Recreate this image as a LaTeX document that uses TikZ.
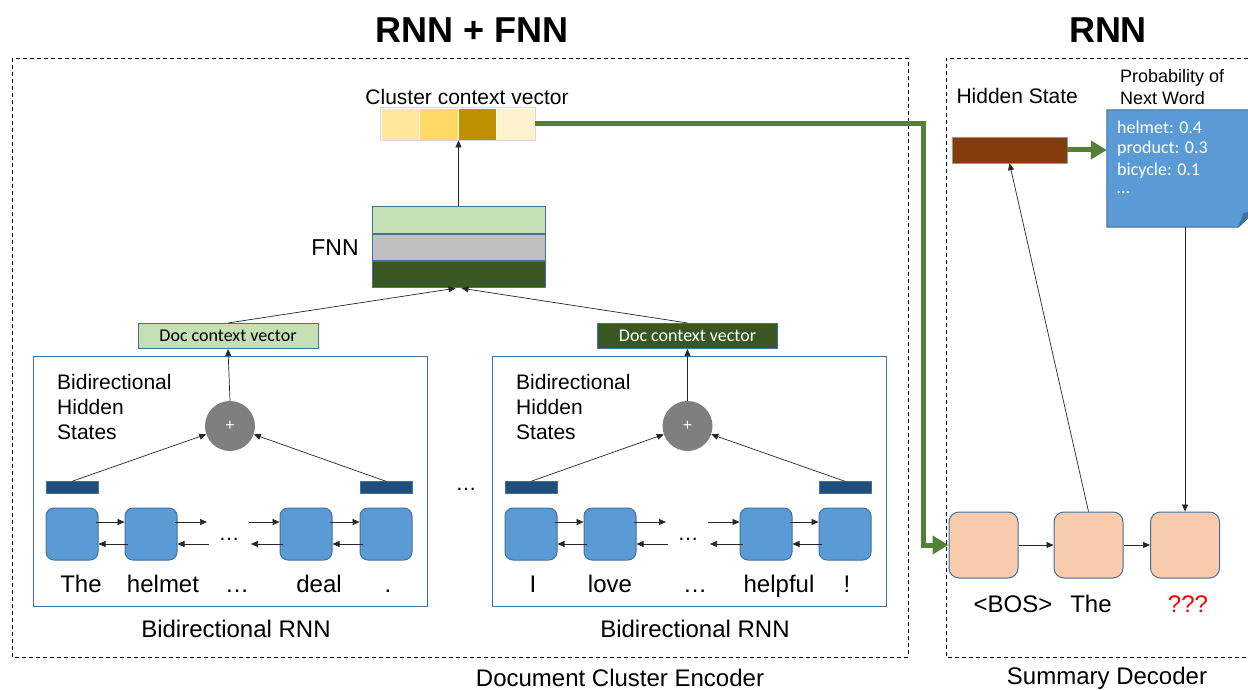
\documentclass[tikz,border=0pt]{standalone}
\usepackage{fontspec}
\setmainfont{Liberation Sans}
\newfontfamily\calibrifont{Carlito}
\usetikzlibrary{arrows.meta, positioning, calc}

\definecolor{cellA}{HTML}{FFE699}
\definecolor{cellB}{HTML}{FFD966}
\definecolor{cellC}{HTML}{BF9000}
\definecolor{cellD}{HTML}{FFF2CC}
\definecolor{lightgreen}{HTML}{C5E0B4}
\definecolor{midgray}{HTML}{BFBFBF}
\definecolor{darkgreen}{HTML}{385723}
\definecolor{barblue}{HTML}{1F4E79}
\definecolor{boxblue}{HTML}{5B9BD5}
\definecolor{edgeblue}{HTML}{41719C}
\definecolor{peach}{HTML}{F8CBAD}
\definecolor{hiddenbrown}{HTML}{843C0C}
\definecolor{arrowgreen}{HTML}{548235}
\definecolor{sumgray}{HTML}{7F7F7F}

\begin{document}
\begin{tikzpicture}[x=1pt, y=-1pt]
    % --- Style Definitions ---
    \tikzset{
        % Dashed outer frames
        frame box/.style={
            draw=black,
            dash pattern=on 4pt off 3pt,
            line width=0.8pt
        },
        % Text styling
        title text/.style={font=\fontsize{36}{40}\selectfont\bfseries},
        caption text/.style={font=\fontsize{24}{28}\selectfont},
        word text/.style={font=\fontsize{24}{28}\selectfont, anchor=base},
        label text/.style={font=\fontsize{21}{25}\selectfont},
        small text/.style={font=\fontsize{18}{22}\selectfont},
        note text/.style={font=\calibrifont\fontsize{18}{22}\selectfont, text=white, anchor=west, inner sep=0pt},
        % Encoder parts
        rnn frame/.style={draw=edgeblue, line width=1pt, minimum width=394pt, minimum height=250pt, inner sep=0pt},
        rnn cell/.style={draw=edgeblue, fill=boxblue, rounded corners=8pt, line width=1pt,
            minimum width=52pt, minimum height=52pt, inner sep=0pt},
        state bar/.style={draw=edgeblue, fill=barblue, minimum width=52pt, minimum height=12pt, inner sep=0pt},
        sum node/.style={circle, fill=sumgray, minimum size=50pt, inner sep=0pt,
            text=white, font=\fontsize{16}{18}\selectfont},
        doc vector/.style={draw=edgeblue, line width=1pt, minimum width=180pt, minimum height=25pt,
            inner sep=0pt, font=\calibrifont\fontsize{18}{22}\selectfont},
        vec cell/.style={draw=white, line width=0.8pt, minimum width=38.5pt, minimum height=32pt, inner sep=0pt},
        fnn layer/.style={draw=edgeblue, line width=1pt, minimum width=173pt, minimum height=26.3pt, inner sep=0pt},
        % Decoder parts
        dec cell/.style={rnn cell, fill=peach, rounded corners=10pt, minimum width=69pt, minimum height=66pt},
        % Arrow styling
        thin arrow/.style={-{Triangle[length=7pt, width=6pt]}, line width=0.7pt, draw=black!85},
        green arrow/.style={draw=arrowgreen, line width=5pt, line join=miter,
            -{Triangle[length=16pt, width=18pt]}}
    }

    \useasboundingbox (0,0) rectangle (1248,690);

    % --- 1. Titles and Frames ---
    \node[title text] (titleEnc) at (472,30) {RNN + FNN};
    \node[title text] (titleDec) at (1108,30) {RNN};
    \draw[frame box] (12,58) rectangle (908,657);
    \draw[frame box] (1262,58) -- (946,58) -- (946,657) -- (1262,657);
    \node[caption text] (capEnc) at (620,678) {Document Cluster Encoder};
    \node[caption text] (capDec) at (1107,678) {Summary Decoder};

    % --- 2. Cluster Context Vector ---
    \node[label text] (clusterLbl) at (467,97) {Cluster context vector};
    \node[vec cell, fill=cellA] (c1) at (400.25,124) {};
    \node[vec cell, fill=cellB] (c2) at (438.75,124) {};
    \node[vec cell, fill=cellC] (c3) at (477.25,124) {};
    \node[vec cell, fill=cellD] (c4) at (515.75,124) {};
    \draw[black!15, line width=0.8pt] (c1.north west) rectangle (c4.south east);

    % --- 3. FNN ---
    \node[fnn layer, fill=lightgreen] (fnn1) at (458.5,220) {};
    \node[fnn layer, fill=midgray, below=0pt of fnn1] (fnn2) {};
    \node[fnn layer, fill=darkgreen, below=0pt of fnn2] (fnn3) {};
    \node[caption text, font=\fontsize{23}{27}\selectfont] (fnnLbl) at (335,248) {FNN};
    \draw[thin arrow] (fnn1.north) -- (fnn1.north |- c2.south);

    % --- 4. Document Context Vectors ---
    \node[doc vector, fill=lightgreen] (docL) at (228,336) {Doc context vector};
    \node[doc vector, fill=darkgreen, text=white] (docR) at (687.5,336) {Doc context vector};
    \draw[thin arrow] (docL.north) -- ([xshift=-3pt]fnn3.south);
    \draw[thin arrow] (docR.north) -- ([xshift=3pt]fnn3.south);

    % --- 5. Bidirectional RNN (left document) ---
    \node[rnn frame] (rnnL) at (230,481) {};
    \node[label text, align=left, anchor=north west, inner sep=0pt] (hsL) at (57,374) {Bidirectional\\Hidden\\States};
    \node[sum node] (sumL) at (230,426) {+};
    \draw[thin arrow] (sumL.north) -- (docL.south);
    \node[state bar] (barL1) at (72,487.5) {};
    \node[state bar] (barL2) at (386,487.5) {};
    \draw[thin arrow] (barL1.north) -- (sumL);
    \draw[thin arrow] (barL2.north) -- (sumL);
    \node[rnn cell] (cL1) at (72,534) {};
    \node[rnn cell] (cL2) at (151,534) {};
    \node[rnn cell] (cL3) at (306,534) {};
    \node[rnn cell] (cL4) at (386,534) {};
    \coordinate (gapL1) at (207,522);
    \coordinate (gapL2) at (249,522);
    \coordinate (gapL3) at (251,544);
    \coordinate (gapL4) at (209,544);
    \draw[thin arrow] ([xshift=-3pt, yshift=12pt]cL1.east) -- ([yshift=12pt]cL2.west);
    \draw[thin arrow] ([xshift=3pt, yshift=-10pt]cL2.west) -- ([yshift=-10pt]cL1.east);
    \draw[thin arrow] ([xshift=-3pt, yshift=12pt]cL2.east) -- (gapL1);
    \draw[thin arrow] (gapL2) -- ([yshift=12pt]cL3.west);
    \draw[thin arrow] ([xshift=3pt, yshift=-10pt]cL3.west) -- (gapL3);
    \draw[thin arrow] (gapL4) -- ([yshift=-10pt]cL2.east);
    \draw[thin arrow] ([xshift=-3pt, yshift=12pt]cL3.east) -- ([yshift=12pt]cL4.west);
    \draw[thin arrow] ([xshift=3pt, yshift=-10pt]cL4.west) -- ([yshift=-10pt]cL3.east);
    \node[label text] (dotsL) at (229,539) {\dots};
    \node[word text] (wL1) at (81,592) {The};
    \node[word text] (wL2) at (163,592) {helmet};
    \node[word text] (wL3) at (237,592) {…};
    \node[word text] (wL4) at (319,592) {deal};
    \node[word text] (wL5) at (388,592) {.};
    \node[caption text] (birnnL) at (236,629) {Bidirectional RNN};

    \node[label text] (dotsMid) at (466,489) {\dots};

    % --- 6. Bidirectional RNN (right document) ---
    \node[rnn frame] (rnnR) at (689,481) {};
    \node[label text, align=left, anchor=north west, inner sep=0pt] (hsR) at (516,374) {Bidirectional\\Hidden\\States};
    \node[sum node] (sumR) at (687.5,426) {+};
    \draw[thin arrow] (sumR.north) -- (docR.south);
    \node[state bar] (barR1) at (531,487.5) {};
    \node[state bar] (barR2) at (845,487.5) {};
    \draw[thin arrow] (barR1.north) -- (sumR);
    \draw[thin arrow] (barR2.north) -- (sumR);
    \node[rnn cell] (cR1) at (531,534) {};
    \node[rnn cell] (cR2) at (610,534) {};
    \node[rnn cell] (cR3) at (766,534) {};
    \node[rnn cell] (cR4) at (845,534) {};
    \coordinate (gapR1) at (666,522);
    \coordinate (gapR2) at (708,522);
    \coordinate (gapR3) at (710,544);
    \coordinate (gapR4) at (668,544);
    \draw[thin arrow] ([xshift=-3pt, yshift=12pt]cR1.east) -- ([yshift=12pt]cR2.west);
    \draw[thin arrow] ([xshift=3pt, yshift=-10pt]cR2.west) -- ([yshift=-10pt]cR1.east);
    \draw[thin arrow] ([xshift=-3pt, yshift=12pt]cR2.east) -- (gapR1);
    \draw[thin arrow] (gapR2) -- ([yshift=12pt]cR3.west);
    \draw[thin arrow] ([xshift=3pt, yshift=-10pt]cR3.west) -- (gapR3);
    \draw[thin arrow] (gapR4) -- ([yshift=-10pt]cR2.east);
    \draw[thin arrow] ([xshift=-3pt, yshift=12pt]cR3.east) -- ([yshift=12pt]cR4.west);
    \draw[thin arrow] ([xshift=3pt, yshift=-10pt]cR4.west) -- ([yshift=-10pt]cR3.east);
    \node[label text] (dotsR) at (688,539) {\dots};
    \node[word text] (wR1) at (533,592) {I};
    \node[word text] (wR2) at (610,592) {love};
    \node[word text] (wR3) at (695,592) {…};
    \node[word text] (wR4) at (779,592) {helpful};
    \node[word text] (wR5) at (847,592) {!};
    \node[caption text] (birnnR) at (695,629) {Bidirectional RNN};

    % --- 7. Summary Decoder ---
    \node[label text, anchor=west] (hidLbl) at (953,96) {Hidden State};
    \node[draw=black!40, fill=hiddenbrown, minimum width=115pt, minimum height=26pt, inner sep=0pt] (hidden) at (1009.5,150) {};
    \node[small text, align=left, anchor=north west, inner sep=0pt] (probLbl) at (1120,69) {Probability of\\Next Word};

    % Probability note with folded corner
    \node[minimum width=149pt, minimum height=117pt, inner sep=0pt] (note) at (1181.5,168.5) {};
    \draw[draw=edgeblue, fill=boxblue, line width=1pt]
        (note.north west) -- (note.north east) -- ([yshift=17pt]note.south east)
        -- ([xshift=-18pt]note.south east) -- (note.south west) -- cycle;
    \fill[edgeblue] ([xshift=-18pt]note.south east) -- ([xshift=-13pt, yshift=14pt]note.south east)
        -- ([yshift=17pt]note.south east) -- cycle;
    \node[note text] (p1) at (1117,127) {helmet: 0.4};
    \node[note text] (p2) at (1117,149) {product: 0.3};
    \node[note text] (p3) at (1117,171) {bicycle: 0.1};
    \node[note text] (p4) at (1117,193) {…};

    \node[dec cell] (dec1) at (983.5,545) {};
    \node[dec cell] (dec2) at (1088.5,545) {};
    \node[dec cell] (dec3) at (1185,545) {};
    \draw[thin arrow] (dec1.east) -- (dec2.west);
    \draw[thin arrow] (dec2.east) -- (dec3.west);
    \draw[thin arrow] (dec2.north) -- (hidden.south);
    \draw[thin arrow] (dec3.north |- note.south) -- (dec3.north);
    \draw[green arrow] (hidden.east) -- (note.west |- hidden.east);
    \node[word text] (dw1) at (1013,612) {<BOS>};
    \node[word text] (dw2) at (1091,612) {The};
    \node[word text, text=red] (dw3) at (1188,612) {???};

    % --- 8. Context vector into the decoder ---
    \coordinate (bendTop) at (923,124);
    \coordinate (bendBot) at (923,545);
    \draw[green arrow] (c4.east) -- (bendTop) -- (bendBot) -- (dec1.west);

\end{tikzpicture}
\end{document}
